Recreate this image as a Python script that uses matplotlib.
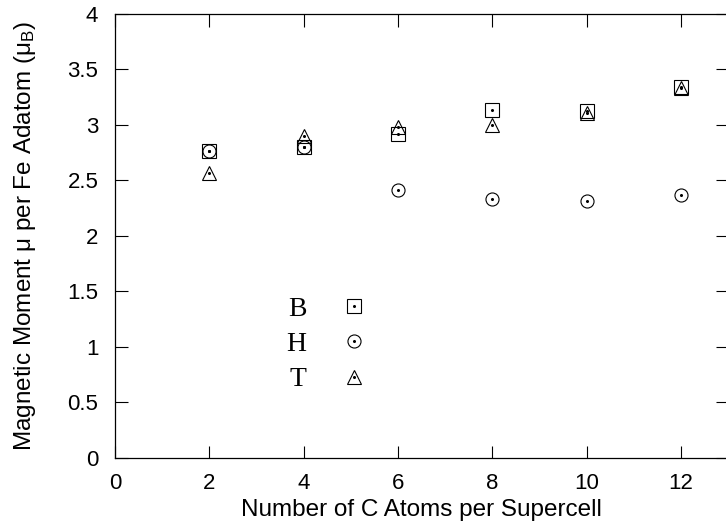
import numpy as np
import matplotlib
matplotlib.use('Agg')
import matplotlib.pyplot as plt
from matplotlib.legend_handler import HandlerTuple

plt.rcParams['font.family'] = ['Liberation Sans', 'DejaVu Sans']
plt.rcParams['mathtext.fontset'] = 'custom'
plt.rcParams['mathtext.rm'] = 'Liberation Sans'
plt.rcParams['mathtext.it'] = 'Liberation Sans'

# numero de atomos de C por supercelda
n_C = [2, 4, 6, 8, 10, 12]

# momento magnetico por sitio de adsorcion
mu_B = [2.76, 2.80, 2.915, 3.13, 3.125, 3.34]
mu_H = [2.76, 2.80, 2.415, 2.33, 2.316, 2.367]
mu_T = [2.565, 2.90, 2.98, 3.00, 3.11, 3.33]

series = [('B', mu_B, 's'), ('H', mu_H, 'o'), ('T', mu_T, '^')]

W, H = 726, 529
fig = plt.figure(figsize=(W / 100, H / 100), dpi=100)
ax = fig.add_axes([115 / W, (H - 457.5) / H, (728 - 115) / W, (457.5 - 14) / H])

handles = []
labels = []
for nombre, valores, marca in series:
    h, = ax.plot(n_C, valores, linestyle='none', marker=marca, markersize=9.4,
                 markerfacecolor='none', markeredgecolor='black',
                 markeredgewidth=0.8)
    # punto central del simbolo
    d, = ax.plot(n_C, valores, linestyle='none', marker='o', markersize=1.2,
                 color='black')
    handles.append((h, d))
    labels.append(nombre)

ax.set_xlim(0, 13)
ax.set_ylim(0, 4)
ax.set_xticks([0, 2, 4, 6, 8, 10, 12])
ax.set_yticks([0, 0.5, 1, 1.5, 2, 2.5, 3, 3.5, 4])
ax.set_yticklabels(['0', '0.5', '1', '1.5', '2', '2.5', '3', '3.5', '4'])
ax.tick_params(direction='in', length=9, width=0.8, labelsize=16,
               top=True, right=True)
ax.tick_params(axis='x', pad=11)
ax.tick_params(axis='y', pad=12)
for s in ax.spines.values():
    s.set_linewidth(0.9)

ax.set_xlabel('Number of C Atoms per Supercell', fontsize=17.5, labelpad=4)
ax.set_ylabel(r'Magnetic Moment $\mu$ per Fe Adatom ($\mu_\mathrm{B}$)',
              fontsize=17.5, labelpad=21)

ax.legend(handles=handles, labels=labels, loc='center',
          bbox_to_anchor=(0.346, 0.255),
          handler_map={tuple: HandlerTuple(ndivide=1)},
          markerfirst=False, frameon=False, handlelength=1.0,
          handletextpad=1.2, labelspacing=0.35,
          prop={'family': 'Liberation Serif', 'size': 20})

fig.savefig('out.png', dpi=100)
